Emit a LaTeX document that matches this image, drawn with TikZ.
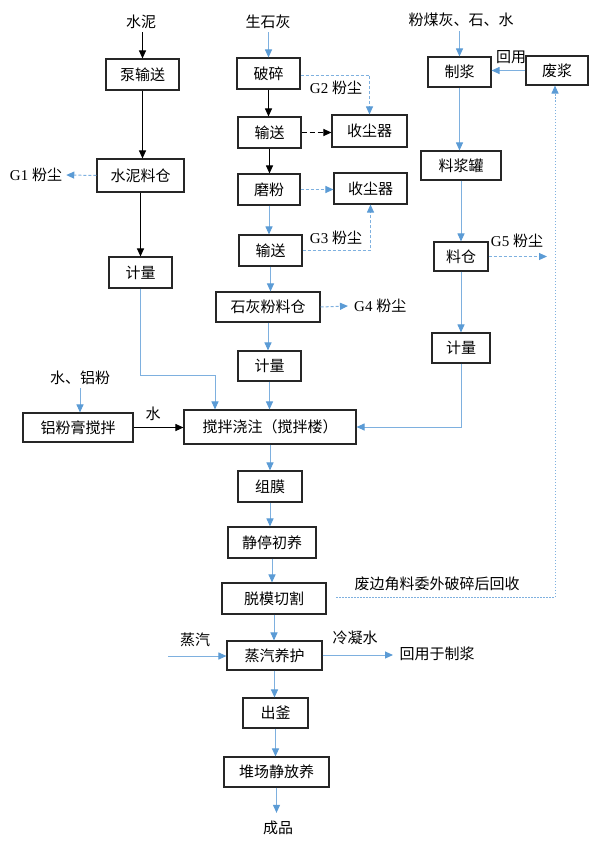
\documentclass[tikz,border=0pt]{standalone}
\usepackage{fontspec}
\setmainfont{Liberation Serif}
\newfontfamily\cjk{Noto Sans CJK SC}
\usetikzlibrary{arrows.meta}
\definecolor{lblue}{HTML}{5B9BD5}
\definecolor{lline}{HTML}{7EB0DF}
\definecolor{bord}{HTML}{262626}
\tikzset{
  box/.style={draw=bord,line width=1.1pt,inner sep=0pt,font=\cjk\fontsize{15}{17}\selectfont},
  lbl/.style={inner sep=0pt,font=\fontsize{15}{17}\selectfont},
  blk/.style={draw=black,line width=1pt,-{Triangle[length=8pt,width=7pt]}},
  bl/.style={draw=lline,line width=1pt,-{Triangle[length=8pt,width=7pt,color=lblue,fill=lblue]}},
  bld/.style={bl,dash pattern=on 3pt off 2pt},
  bldot/.style={bl,dash pattern=on 1.5pt off 1.5pt},
  blkd/.style={blk,dash pattern=on 5pt off 3pt},
}
\begin{document}
\begin{tikzpicture}[x=1pt,y=-1pt]
\useasboundingbox (0,0) rectangle (595,846);
% left column
\node[lbl] (tsn) at (141,22) {\cjk 水泥};
\node[box,minimum width=73pt,minimum height=31pt] (bsz) at (142.5,74.5) {泵输送};
\node[box,minimum width=87pt,minimum height=33pt] (snlc) at (140.5,175.5) {水泥料仓};
\node[lbl] (tg1) at (36,175) {G1 {\cjk 粉尘}};
\node[box,minimum width=63pt,minimum height=31pt] (jl1) at (140.5,272.5) {计量};
\node[lbl] (tslf) at (80,378) {\cjk 水、铝粉};
\node[box,minimum width=110pt,minimum height=29pt] (lfg) at (78,427.5) {铝粉膏搅拌};
% middle column
\node[lbl] (tshl) at (268,22) {\cjk 生石灰};
\node[box,minimum width=63pt,minimum height=31pt] (ps) at (268.5,73.5) {破碎};
\node[box,minimum width=63pt,minimum height=31pt] (ss1) at (269.5,132.5) {输送};
\node[box,minimum width=75pt,minimum height=32pt] (scq1) at (369.5,131) {收尘器};
\node[box,minimum width=62pt,minimum height=31pt] (mf) at (269,189.5) {磨粉};
\node[box,minimum width=73pt,minimum height=31pt] (scq2) at (370.5,188.5) {收尘器};
\node[box,minimum width=63pt,minimum height=31pt] (ss2) at (270.5,250.5) {输送};
\node[box,minimum width=104pt,minimum height=30pt] (shf) at (268,307) {石灰粉料仓};
\node[lbl,anchor=west] (tg4) at (354,306) {G4 {\cjk 粉尘}};
\node[box,minimum width=63pt,minimum height=30pt] (jl2) at (269.5,366) {计量};
\node[lbl] (tg2) at (336,88) {G2 {\cjk 粉尘}};
\node[lbl] (tg3) at (336,238) {G3 {\cjk 粉尘}};
% right column
\node[lbl] (tfmh) at (461,20) {\cjk 粉煤灰、石、水};
\node[box,minimum width=63pt,minimum height=30pt] (zj) at (459.5,72) {制浆};
\node[box,minimum width=62pt,minimum height=29pt] (fj) at (557,70.5) {废浆};
\node[lbl] (thy2) at (511,57) {\cjk 回用};
\node[box,minimum width=80pt,minimum height=29pt] (ljg) at (461,165.5) {料浆罐};
\node[box,minimum width=54pt,minimum height=29pt] (lc) at (461,256.5) {料仓};
\node[lbl] (tg5) at (517,241) {G5 {\cjk 粉尘}};
\node[box,minimum width=58pt,minimum height=30pt] (jl3) at (461,348) {计量};
% main chain
\node[box,minimum width=172pt,minimum height=34pt] (jb) at (270,427) {搅拌浇注（搅拌楼）};
\node[lbl] (tshui) at (153,414) {\cjk 水};
\node[box,minimum width=64pt,minimum height=31pt] (zm) at (270,486.5) {组膜};
\node[box,minimum width=88pt,minimum height=31pt] (jt) at (272,542.5) {静停初养};
\node[box,minimum width=104pt,minimum height=31pt] (tm) at (274,598.5) {脱模切割};
\node[lbl] (tfbj) at (437,584) {\cjk 废边角料委外破碎后回收};
\node[box,minimum width=95pt,minimum height=29pt] (zq) at (274.5,655.5) {蒸汽养护};
\node[lbl] (tzq) at (195,640) {\cjk 蒸汽};
\node[lbl] (tlns) at (355,638) {\cjk 冷凝水};
\node[lbl] (thy) at (437,654) {\cjk 回用于制浆};
\node[box,minimum width=65pt,minimum height=30pt] (cf) at (275.5,713) {出釜};
\node[box,minimum width=105pt,minimum height=30pt] (dc) at (276.5,772) {堆场静放养};
\node[lbl] (tcp) at (278,828) {\cjk 成品};
\coordinate (c1) at (215,375);
\coordinate (g5e) at (547,255);
\coordinate (r0) at (336,597);
\coordinate (zqs) at (168,656);
\coordinate (lnse) at (393,655);
% connectors left
\draw[blk] (tsn.south -| bsz.north) ++(0,3) -- (bsz.north);
\draw[blk] (bsz.south) -- (bsz.south |- snlc.north);
\draw[blk] (snlc.south) -- (snlc.south |- jl1.north);
\draw[bld] (snlc.west) -- ([xshift=4pt]tg1.east);
\draw[bl] (jl1.south) |- (c1) -- (c1 |- jb.north);
\draw[bl] ([yshift=-3pt]tslf.south) -- (tslf.south |- lfg.north);
\draw[blk] (lfg.east) -- (lfg.east -| jb.west);
% connectors middle
\draw[bl] ([yshift=-3pt]tshl.south -| ps.north) -- (ps.north);
\draw[blk] (ps.south) -- (ps.south |- ss1.north);
\draw[blk] (ss1.south) -- (ss1.south |- mf.north);
\draw[bld] ([yshift=-1.5pt]ps.east) -| (scq1.north);
\draw[blkd] (ss1.east) -- (ss1.east -| scq1.west);
\draw[bld] (mf.east) -- (mf.east -| scq2.west);
\draw[bl] (mf.south) -- (mf.south |- ss2.north);
\draw[bld] (ss2.east) -| (scq2.south);
\draw[bl] (ss2.south) -- (ss2.south |- shf.north);
\draw[bld] (shf.east) -- ([xshift=-6pt]tg4.west);
\draw[bl] (shf.south) -- (shf.south |- jl2.north);
\draw[bl] (jl2.south) -- (jl2.south |- jb.north);
% connectors right
\draw[bl] ([yshift=-4pt]tfmh.south -| zj.north) -- (zj.north);
\draw[bl] (fj.west) -- (fj.west -| zj.east);
\draw[bl] (zj.south) -- (zj.south |- ljg.north);
\draw[bl] (ljg.south) -- (ljg.south |- lc.north);
\draw[bld] (lc.east) -- (lc.east -| g5e);
\draw[bl] (lc.south) -- (lc.south |- jl3.north);
\draw[bl] (jl3.south) |- (jb.east);
% main chain
\draw[bl] (jb.south) -- (jb.south |- zm.north);
\draw[bl] (zm.south) -- (zm.south |- jt.north);
\draw[bl] (jt.south) -- (jt.south |- tm.north);
\draw[bl] (tm.south) -- (tm.south |- zq.north);
\draw[bl] (zq.south) -- (zq.south |- cf.north);
\draw[bl] (cf.south) -- (cf.south |- dc.north);
\draw[bl] (dc.south) -- ([yshift=8pt]dc.south |- tcp.north);
\draw[bldot] (r0) -| ([xshift=-2pt]fj.south);
\draw[bl] (zqs) -- (zqs -| zq.west);
\draw[bl] (zq.east |- lnse) -- (lnse);
\end{tikzpicture}
\end{document}
